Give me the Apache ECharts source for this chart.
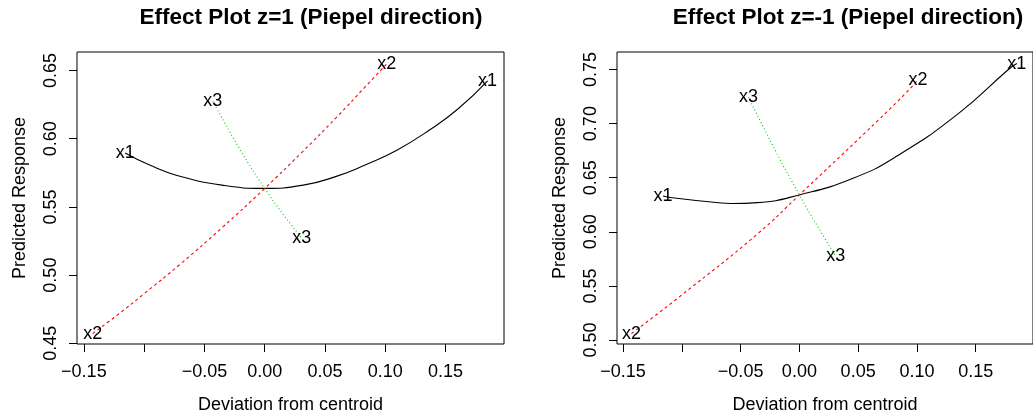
<!DOCTYPE html>
<html><head><meta charset="utf-8">
<script src="https://cdn.jsdelivr.net/npm/echarts@6/dist/echarts.min.js"></script>
<style>html,body{margin:0;padding:0;background:#fff}#c{width:1033px;height:419px}</style>
</head><body><div id="c"></div>
<script>
// ---------- text ----------
const panelTitles = ['Effect Plot z=1 (Piepel direction)', 'Effect Plot z=-1 (Piepel direction)'];
const xAxisTitle = 'Deviation from centroid';
const yAxisTitle = 'Predicted Response';
const componentNames = ['x1', 'x2', 'x3'];

// ---------- data, panel 1 (z = 1) ----------
const z1_x1_dev  = [-0.1157, -0.095, -0.0728, -0.0355, -0.0012, 0.032, 0.060, 0.0833, 0.110, 0.137, 0.160, 0.1849];
const z1_x1_resp = [ 0.5896, 0.5805, 0.5731, 0.5660, 0.5636, 0.5660, 0.5726, 0.5808, 0.5918, 0.6066, 0.6216, 0.6425];
const z1_x2_dev  = [-0.1427, -0.120, -0.1005, -0.070, -0.0355, 0.000, 0.030, 0.060, 0.0833, 0.1013];
const z1_x2_resp = [ 0.4571, 0.4723, 0.4860, 0.5081, 0.5347, 0.5636, 0.5893, 0.6161, 0.6380, 0.6549];
const z1_x3_dev  = [-0.0431, -0.020, 0.000, 0.015, 0.0307];
const z1_x3_resp = [ 0.6275, 0.5914, 0.5636, 0.5449, 0.5272];

// ---------- data, panel 2 (z = -1) ----------
const z2_x1_dev  = [-0.116, -0.1104, -0.073, -0.0573, -0.0357, 0.000, 0.0457, 0.083, 0.135, 0.1779, 0.185];
const z2_x1_resp = [ 0.6331, 0.6318, 0.6273, 0.6262, 0.6270, 0.6341, 0.6495, 0.6700, 0.7090, 0.7500, 0.7555];
const z2_x2_dev  = [-0.1429, -0.100, -0.0357, 0.000, 0.083, 0.1009];
const z2_x2_resp = [ 0.5059, 0.5417, 0.5980, 0.6341, 0.7199, 0.7405];
const z2_x3_dev  = [-0.0433, -0.020, 0.000, 0.015, 0.0309];
const z2_x3_resp = [ 0.7244, 0.6742, 0.6341, 0.6059, 0.5777];

// ---------- ticks ----------
const xTickValues = [-0.15, -0.10, -0.05, 0.00, 0.05, 0.10, 0.15];
const xTickLabels = ['\u22120.15', '', '\u22120.05', '0.00', '0.05', '0.10', '0.15'];
const yTickValues1 = [0.45, 0.50, 0.55, 0.60, 0.65];
const yTickLabels1 = ['0.45', '0.50', '0.55', '0.60', '0.65'];
const yTickValues2 = [0.50, 0.55, 0.60, 0.65, 0.70, 0.75];
const yTickLabels2 = ['0.50', '0.55', '0.60', '0.65', '0.70', '0.75'];

// axis ranges (R extends data range by 4 %)
const xRange1 = [-0.1557, 0.1985];
const yRange1 = [0.4495, 0.6636];
const xRange2 = [-0.1552, 0.1988];
const yRange2 = [0.4963, 0.7662];

const FONT = 'Liberation Sans, Arial, Helvetica, sans-serif';
const lineColors = ['#000000', '#FF0000', '#00CD00'];
const lineTypes = ['solid', [3, 3], [1, 2.5]];

const zip = (xs, ys) => xs.map((x, i) => [x, ys[i]]);
const lookup = (vals, labs) => v => {
  for (let i = 0; i < vals.length; i++) if (Math.abs(vals[i] - v) < 1e-6) return labs[i];
  return '';
};

const panels = [
  { curves: [[z1_x1_dev, z1_x1_resp], [z1_x2_dev, z1_x2_resp], [z1_x3_dev, z1_x3_resp]],
    xr: xRange1, yr: yRange1, yv: yTickValues1, yl: yTickLabels1, left: 77, cx: 311 },
  { curves: [[z2_x1_dev, z2_x1_resp], [z2_x2_dev, z2_x2_resp], [z2_x3_dev, z2_x3_resp]],
    xr: xRange2, yr: yRange2, yv: yTickValues2, yl: yTickLabels2, left: 617, cx: 848 }
];

const grid = [], xAxis = [], yAxis = [], series = [], graphic = [];
panels.forEach((p, k) => {
  grid.push({ left: p.left, top: 52, width: 427, height: 299, show: true,
              borderColor: '#000', borderWidth: 1, backgroundColor: 'transparent', containLabel: false });
  xAxis.push({
    type: 'value', gridIndex: k, min: p.xr[0], max: p.xr[1], position: 'bottom',
    name: xAxisTitle, nameLocation: 'middle', nameGap: 52,
    nameTextStyle: { fontFamily: FONT, fontSize: 18, color: '#000' },
    axisLine: { show: false, onZero: false },
    axisTick: { show: true, customValues: xTickValues, length: 8, inside: false, lineStyle: { color: '#000', width: 1 } },
    axisLabel: { show: true, customValues: xTickValues, formatter: lookup(xTickValues, xTickLabels),
                 margin: 19, fontFamily: FONT, fontSize: 18, color: '#000' },
    splitLine: { show: false }
  });
  yAxis.push({
    type: 'value', gridIndex: k, min: p.yr[0], max: p.yr[1], position: 'left',
    name: yAxisTitle, nameLocation: 'middle', nameGap: 48, nameRotate: 90,
    nameTextStyle: { fontFamily: FONT, fontSize: 18, color: '#000' },
    axisLine: { show: false, onZero: false },
    axisTick: { show: true, customValues: p.yv, length: 8, lineStyle: { color: '#000', width: 1 } },
    axisLabel: { show: true, customValues: p.yv, formatter: lookup(p.yv, p.yl), rotate: 90,
                 margin: 17, fontFamily: FONT, fontSize: 18, color: '#000' },
    splitLine: { show: false }
  });
  const labelData = [];
  p.curves.forEach((c, j) => {
    const d = zip(c[0], c[1]);
    series.push({
      type: 'line', xAxisIndex: k, yAxisIndex: k, data: d, smooth: true,
      symbol: 'none', showSymbol: false, silent: true, clip: false,
      lineStyle: { color: lineColors[j], width: 1.1, type: lineTypes[j] }
    });
    labelData.push({ value: d[0], name: componentNames[j] });
    labelData.push({ value: d[d.length - 1], name: componentNames[j] });
  });
  series.push({
    type: 'custom', xAxisIndex: k, yAxisIndex: k, data: labelData, silent: true, clip: false, z: 5,
    renderItem: (params, api) => {
      const pt = api.coord([api.value(0), api.value(1)]);
      return { type: 'text', x: pt[0], y: pt[1],
        style: { text: labelData[params.dataIndex].name, fill: '#000', align: 'center',
                 verticalAlign: 'middle', font: '18px ' + FONT } };
    }
  });
  graphic.push({ type: 'text', x: p.cx, y: 18,
    style: { text: panelTitles[k], align: 'center', verticalAlign: 'middle',
             font: 'bold 22.5px ' + FONT, fill: '#000' } });
});

const chart = echarts.init(document.getElementById('c'), null, { renderer: 'canvas' });
chart.setOption({ animation: false, backgroundColor: '#fff', grid, xAxis, yAxis, series, graphic });
</script>
</body></html>
